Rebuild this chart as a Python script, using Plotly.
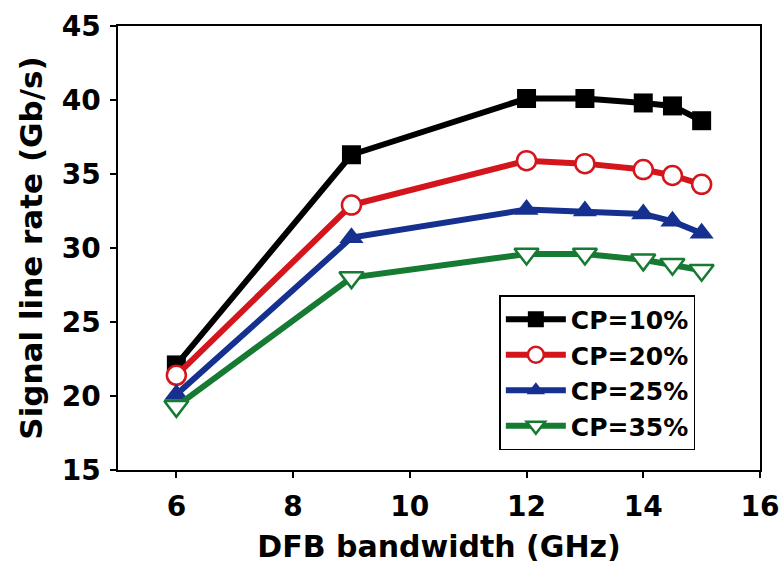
import plotly.graph_objects as go

bandwidth = [6, 9, 12, 13, 14, 14.5, 15]
cp10 = [22.1, 36.3, 40.1, 40.1, 39.8, 39.6, 38.6]
cp20 = [21.4, 32.9, 35.9, 35.7, 35.3, 34.9, 34.3]
cp25 = [20.1, 30.7, 32.6, 32.5, 32.3, 31.8, 31.0]
cp35 = [19.3, 28.0, 29.6, 29.6, 29.2, 28.9, 28.5]
names = ["CP=10%", "CP=20%", "CP=25%", "CP=35%"]
x_ticks = [6, 8, 10, 12, 14, 16]
y_ticks = [15, 20, 25, 30, 35, 40, 45]

FONT = "DejaVu Sans"

styles = [
    dict(color="#000000", symbol="square", fill="#000000", size=19),
    dict(color="#d4151b", symbol="circle-open", fill="#ffffff", size=19),
    dict(color="#16308f", symbol="triangle-up", fill="#16308f", size=21),
    dict(color="#167a32", symbol="triangle-down-open", fill="#ffffff", size=21),
]

fig = go.Figure()
for name, ys, st in zip(names, [cp10, cp20, cp25, cp35], styles):
    if st["fill"] == "#ffffff":
        marker = dict(symbol=st["symbol"].replace("-open", ""), size=st["size"],
                      color="#ffffff", line=dict(color=st["color"], width=2.5))
    else:
        marker = dict(symbol=st["symbol"], size=st["size"], color=st["color"],
                      line=dict(color=st["color"], width=0))
    fig.add_trace(go.Scatter(
        x=bandwidth, y=ys, name=name, mode="lines+markers",
        line=dict(color=st["color"], width=6), marker=marker,
    ))

axis_common = dict(
    showline=True, linecolor="black", linewidth=1.5, mirror=True,
    ticks="outside", ticklen=6, tickwidth=1.5, tickcolor="black",
    showgrid=False, zeroline=False, automargin=False,
    tickfont=dict(family=FONT, size=28, color="black", weight="bold"),
)

fig.update_layout(
    width=781, height=567,
    margin=dict(l=118, r=21, t=26, b=97),
    paper_bgcolor="white", plot_bgcolor="white",
    xaxis=dict(range=[5, 16], tickvals=x_ticks, ticklabelstandoff=5,
               title=dict(text="DFB bandwidth (GHz)", standoff=14,
                          font=dict(family=FONT, size=30, color="black", weight="bold")),
               **axis_common),
    yaxis=dict(range=[15, 45], tickvals=y_ticks, ticklabelstandoff=4,
               title=dict(text="Signal line rate (Gb/s)", standoff=10,
                          font=dict(family=FONT, size=31, color="black", weight="bold")),
               **axis_common),
    legend=dict(x=0.594, y=0.394, xanchor="left", yanchor="top",
                bgcolor="white", bordercolor="black", borderwidth=1.5,
                font=dict(family=FONT, size=25, color="black", weight="bold"),
                itemwidth=60, tracegroupgap=0),
    showlegend=True,
)

fig.write_html("out.html")
